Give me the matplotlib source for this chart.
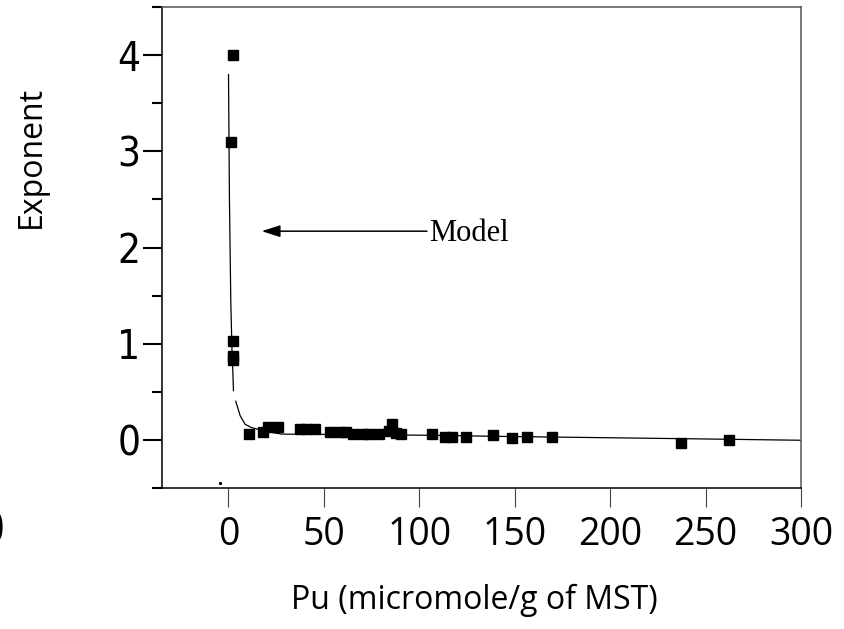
import numpy as np
import matplotlib.pyplot as plt

# measured points (Pu, exponent)
pu = [2.4, 1.4, 2.4, 2.4, 2.4, 10.8, 18.2, 20.8, 26.0, 37.3, 40.8, 45.2,
      53.0, 58.2, 61.7, 65.1, 70.3, 73.8, 79.0, 84.2, 85.9, 87.7, 90.3,
      106.8, 113.7, 117.2, 124.7, 138.7, 148.4, 156.3, 169.6, 237.3, 262.2]
exponent = [4.0, 3.1, 1.03, 0.87, 0.83, 0.056, 0.075, 0.13, 0.135, 0.108, 0.108, 0.108,
            0.083, 0.083, 0.083, 0.056, 0.056, 0.056, 0.056, 0.09, 0.16, 0.07, 0.056,
            0.056, 0.028, 0.028, 0.028, 0.052, 0.015, 0.028, 0.028, -0.03, 0.0]

# model curve (drawn in two pieces, small gap near y=0.45)
model_x_upper = [0.0, 0.5, 1.2, 1.8, 2.2, 2.6]
model_y_upper = [3.80, 2.49, 1.44, 0.95, 0.75, 0.51]
model_x_lower = [3.8, 6.1, 8.7, 12.2, 15.6, 23.4, 28.0, 60.0, 106.0, 140.0, 240.0, 300.0]
model_y_lower = [0.40, 0.25, 0.16, 0.125, 0.108, 0.073, 0.058, 0.053, 0.046, 0.035, 0.01, -0.006]

# stray speck near the origin
speck_x = [-4.3]
speck_y = [-0.45]

xticks = [0, 50, 100, 150, 200, 250, 300]
yticks = [0, 1, 2, 3, 4]
yminor = [-0.5, 0.5, 1.5, 2.5, 3.5, 4.5]

fig = plt.figure(figsize=(8.44, 6.29), dpi=100)
ax = fig.add_axes([0.1916, 0.2246, 0.7574, 0.7638])

ax.plot(model_x_upper, model_y_upper, color='black', lw=0.9)
ax.plot(model_x_lower, model_y_lower, color='black', lw=0.9)
ax.plot(pu, exponent, ls='none', marker='s', ms=7.2, color='black')
ax.plot(speck_x, speck_y, ls='none', marker='s', ms=1.2, color='black')

ax.set_xlim(-35, 300)
ax.set_ylim(-0.5, 4.5)

ax.set_xticks(xticks)
ax.set_xticklabels([str(t) for t in xticks], family=['Open Sans', 'DejaVu Sans'], fontsize=27)
ax.set_yticks(yticks)
ax.set_yticks(yminor, minor=True)
ax.set_yticklabels([str(t) for t in yticks], family=['Liberation Sans Narrow', 'DejaVu Sans'],
                   fontstretch='condensed', fontsize=29)

ax.tick_params(axis='x', direction='out', length=13.7, width=0.8, color='#444444', pad=7)
ax.tick_params(axis='y', which='major', direction='out', length=13.5, width=1.5, pad=2)
ax.tick_params(axis='y', which='minor', direction='out', length=7, width=1.5)

for side in ['left', 'bottom']:
    ax.spines[side].set_linewidth(1.1)
    ax.spines[side].set_color('black')
for side in ['top', 'right']:
    ax.spines[side].set_linewidth(1.1)
    ax.spines[side].set_color('#555555')

ax.annotate('', xy=(17.4, 2.17), xytext=(104, 2.17),
            arrowprops=dict(arrowstyle='-|>,head_length=0.75,head_width=0.24',
                            mutation_scale=15, color='black', lw=1.1,
                            shrinkA=0, shrinkB=0))
ax.text(105, 2.15, 'Model', family=['Liberation Serif', 'DejaVu Serif'],
        fontsize=22, ha='left', va='center')

fig.text(31 / 844, 1 - 157 / 629, 'Exponent', rotation=90, ha='center', va='center',
         family=['Open Sans', 'DejaVu Sans'], fontsize=23)
fig.text(474 / 844, 1 - 600 / 629, 'Pu (micromole/g of MST)', ha='center', va='center',
         family=['Open Sans', 'DejaVu Sans'], fontsize=23)
fig.text(5 / 844, 1 - 531 / 629, '0', ha='right', va='center',
         family=['Open Sans', 'DejaVu Sans'], fontsize=34)

fig.savefig('out.png', dpi=100)
